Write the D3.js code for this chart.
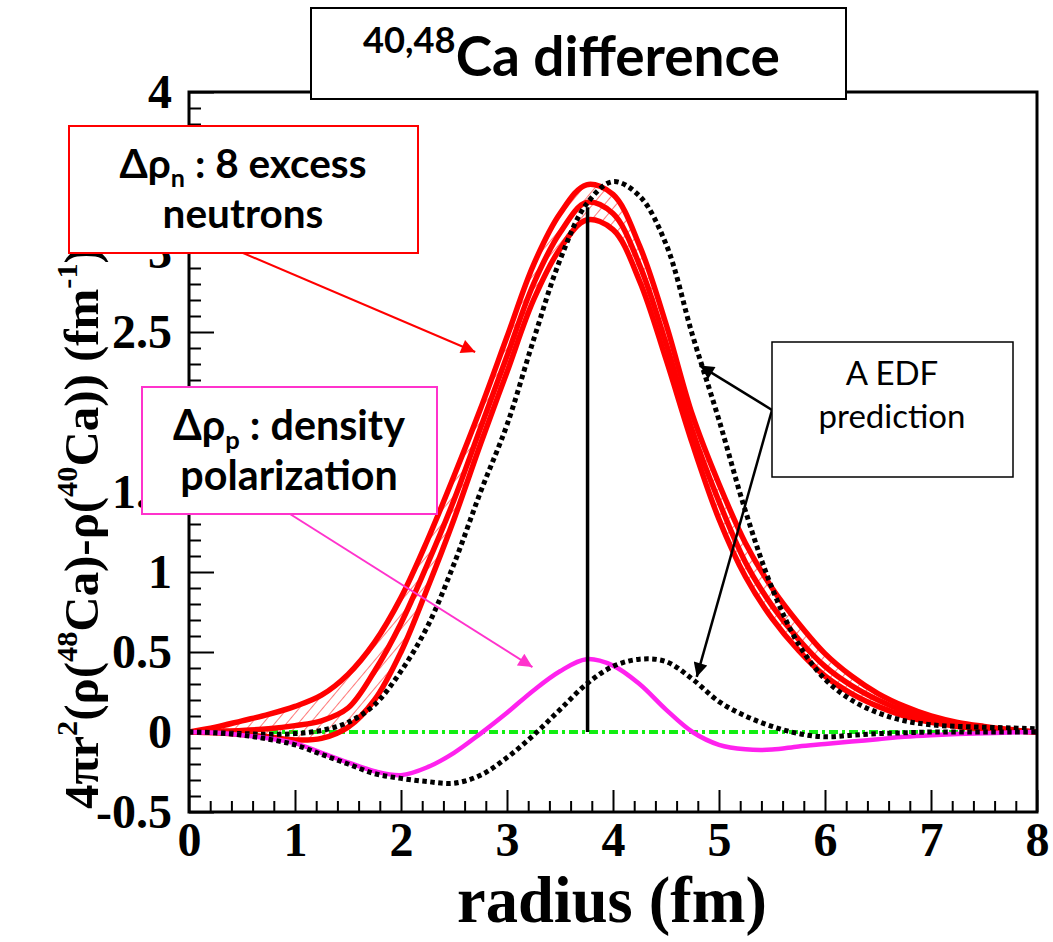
<!DOCTYPE html>
<html>
<head>
<meta charset="utf-8">
<script src="https://cdn.jsdelivr.net/npm/d3@7"></script>
<style>
  body { margin: 0; background: #fff; }
  svg { display: block; }
</style>
</head>
<body>
<svg id="chart" width="1053" height="942"></svg>
<script>
// radius grid (fm), shared by every curve
var radius = [0, 0.25, 0.5, 0.75, 1, 1.25, 1.5, 1.75, 2, 2.25, 2.5, 2.75, 3, 3.25, 3.5, 3.75,
              4, 4.25, 4.5, 4.75, 5, 5.25, 5.5, 5.75, 6, 6.25, 6.5, 6.75, 7, 7.25, 7.5, 7.75, 8];

// measured neutron difference: upper / central / lower edge of the band
var nUpper  = [0, 0.03, 0.07, 0.11, 0.16, 0.23, 0.36, 0.56, 0.84, 1.2, 1.6, 2.02, 2.47, 2.92, 3.24, 3.42,
               3.36, 3.04, 2.55, 1.98, 1.55, 1.18, 0.9, 0.68, 0.49, 0.35, 0.24, 0.16, 0.1, 0.06, 0.035, 0.015, 0];
var nMiddle = [0, 0.005, 0.01, 0.02, 0.04, 0.07, 0.15, 0.38, 0.68, 1.05, 1.45, 1.9, 2.35, 2.8, 3.12, 3.31,
               3.24, 2.92, 2.43, 1.88, 1.44, 1.06, 0.79, 0.58, 0.41, 0.29, 0.2, 0.13, 0.08, 0.045, 0.025, 0.01, 0];
var nLower  = [0, -0.005, -0.015, -0.03, -0.05, -0.04, 0.03, 0.2, 0.5, 0.9, 1.33, 1.8, 2.25, 2.7, 3.02, 3.2,
               3.14, 2.82, 2.33, 1.8, 1.33, 0.97, 0.71, 0.51, 0.35, 0.24, 0.16, 0.1, 0.06, 0.035, 0.02, 0.008, 0];
// EDF prediction for neutrons
var nEDF    = [0, -0.005, -0.01, -0.015, -0.01, 0.01, 0.06, 0.17, 0.38, 0.66, 1.05, 1.5, 1.92, 2.45, 2.95, 3.3,
               3.44, 3.35, 3.05, 2.48, 1.95, 1.38, 0.9, 0.55, 0.33, 0.2, 0.12, 0.07, 0.045, 0.035, 0.03, 0.025, 0.02];
// measured proton difference (density polarization)
var pMeas   = [0, -0.005, -0.02, -0.04, -0.07, -0.13, -0.19, -0.245, -0.27, -0.22, -0.13, -0.01, 0.12, 0.26, 0.38, 0.455,
               0.415, 0.3, 0.14, 0, -0.08, -0.108, -0.11, -0.09, -0.075, -0.06, -0.045, -0.03, -0.02, -0.013, -0.008, -0.003, 0];
// EDF prediction for protons
var pEDF    = [0, -0.005, -0.02, -0.045, -0.08, -0.14, -0.2, -0.26, -0.29, -0.31, -0.32, -0.27, -0.16, -0.02, 0.14, 0.3,
               0.41, 0.455, 0.44, 0.33, 0.19, 0.1, 0.035, -0.01, -0.03, -0.02, -0.01, -0.005, 0, 0, 0, 0, 0];

// vertical marker at the peak
var peakR = 3.76, peakTop = 3.28;

// tick values
var xTicks = [0, 1, 2, 3, 4, 5, 6, 7, 8];
var yTicks = [-0.5, 0, 0.5, 1, 1.5, 2, 2.5, 3, 3.5, 4];

var svg = d3.select('#chart');
var plot = {l: 189, r: 1037, t: 92, b: 812};

var serif = '"Liberation Serif", "Times New Roman", serif';
var sans = 'Lato, "Open Sans", sans-serif';

var x = d3.scaleLinear().domain([0, 8]).range([plot.l, plot.r]);
var y = d3.scaleLinear().domain([-0.5, 4]).range([plot.b, plot.t]);

var defs = svg.append('defs');
defs.append('clipPath').attr('id', 'clip')
  .append('rect')
  .attr('x', plot.l).attr('y', plot.t)
  .attr('width', plot.r - plot.l).attr('height', plot.b - plot.t);

var hatch = defs.append('pattern')
  .attr('id', 'hatch')
  .attr('patternUnits', 'userSpaceOnUse')
  .attr('width', 9).attr('height', 9)
  .attr('patternTransform', 'rotate(40)');
hatch.append('line')
  .attr('x1', 0).attr('y1', 0).attr('x2', 0).attr('y2', 9)
  .attr('stroke', '#ff2020').attr('stroke-width', 1.2);

function marker(id, color) {
  defs.append('marker')
    .attr('id', id)
    .attr('viewBox', '0 0 10 10')
    .attr('refX', 10).attr('refY', 5)
    .attr('markerUnits', 'userSpaceOnUse')
    .attr('markerWidth', 18).attr('markerHeight', 14)
    .attr('orient', 'auto')
    .append('path').attr('d', 'M0,0 L10,5 L0,10 z').attr('fill', color);
}
marker('arRed', '#ff0000');
marker('arMag', '#ff33cc');
marker('arBlk', '#000');

// ---- axes (ticks point inward) ----
function styleAxis(g) {
  g.select('.domain').remove();
  g.selectAll('line').attr('stroke', '#000').attr('stroke-width', 2);
  g.selectAll('text')
    .attr('font-family', serif).attr('font-weight', 'bold')
    .attr('font-size', 48).attr('fill', '#000');
}

var xMinor = d3.range(0, 8.001, 0.2).filter(function(d) { return Math.abs(d - Math.round(d)) > 0.01; });
var yMinor = d3.range(-0.5, 4.001, 0.1).filter(function(d) { return Math.abs(d * 2 - Math.round(d * 2)) > 0.01; });

svg.append('g')
  .attr('transform', 'translate(0,' + plot.b + ')')
  .call(d3.axisBottom(x).tickValues(xMinor).tickSize(-11).tickFormat(''))
  .call(styleAxis);
svg.append('g')
  .attr('transform', 'translate(0,' + plot.b + ')')
  .call(d3.axisBottom(x).tickValues(xTicks).tickSize(-22).tickPadding(10).tickFormat(function(d) { return d; }))
  .call(styleAxis);

svg.append('g')
  .attr('transform', 'translate(' + plot.l + ',0)')
  .call(d3.axisLeft(y).tickValues(yMinor).tickSize(-12).tickFormat(''))
  .call(styleAxis);
svg.append('g')
  .attr('transform', 'translate(' + plot.l + ',0)')
  .call(d3.axisLeft(y).tickValues(yTicks).tickSize(-25).tickPadding(17).tickFormat(function(d) { return d; }))
  .call(styleAxis);

// ---- curves ----
var pts = function(arr) { return radius.map(function(r, i) { return [r, arr[i]]; }); };
var line = d3.line()
  .x(function(d) { return x(d[0]); })
  .y(function(d) { return y(d[1]); })
  .curve(d3.curveCatmullRom.alpha(0.5));

var band = d3.area()
  .x(function(d, i) { return x(radius[i]); })
  .y0(function(d, i) { return y(nLower[i]); })
  .y1(function(d, i) { return y(nUpper[i]); })
  .curve(d3.curveCatmullRom.alpha(0.5));

var chart = svg.append('g').attr('clip-path', 'url(#clip)');

// zero line
chart.append('line')
  .attr('x1', x(0)).attr('x2', x(8))
  .attr('y1', y(0)).attr('y2', y(0))
  .attr('stroke', '#11ee11').attr('stroke-width', 4)
  .attr('stroke-dasharray', '9,4,3,4');

chart.append('path').datum(radius)
  .attr('d', band)
  .attr('fill', 'url(#hatch)');

[nUpper, nMiddle, nLower].forEach(function(arr) {
  chart.append('path').datum(pts(arr))
    .attr('d', line)
    .attr('fill', 'none')
    .attr('stroke', '#ff0000')
    .attr('stroke-width', 5.5);
});

chart.append('path').datum(pts(nEDF))
  .attr('d', line)
  .attr('fill', 'none')
  .attr('stroke', '#000')
  .attr('stroke-width', 5)
  .attr('stroke-dasharray', '4.5,3.5');

chart.append('path').datum(pts(pMeas))
  .attr('d', line)
  .attr('fill', 'none')
  .attr('stroke', '#ff22ee')
  .attr('stroke-width', 4.5);

chart.append('path').datum(pts(pEDF))
  .attr('d', line)
  .attr('fill', 'none')
  .attr('stroke', '#000')
  .attr('stroke-width', 5)
  .attr('stroke-dasharray', '4.5,3.5');

chart.append('line')
  .attr('x1', x(peakR)).attr('x2', x(peakR))
  .attr('y1', y(0)).attr('y2', y(peakTop))
  .attr('stroke', '#000').attr('stroke-width', 3.5);

// frame
svg.append('rect')
  .attr('x', plot.l).attr('y', plot.t)
  .attr('width', plot.r - plot.l).attr('height', plot.b - plot.t)
  .attr('fill', 'none').attr('stroke', '#000').attr('stroke-width', 3);

// ---- text helpers ----
function richText(parent, parts, size, o) {
  var t = parent.append('text')
    .attr('x', o.x).attr('y', o.y)
    .attr('text-anchor', o.anchor || 'middle')
    .attr('font-family', o.font)
    .attr('font-weight', o.weight || 'bold')
    .attr('font-size', size)
    .attr('fill', '#000');
  if (o.rotate) t.attr('transform', 'rotate(-90,' + o.x + ',' + o.y + ')');
  var shift = 0;
  parts.forEach(function(p) {
    var want = p.sup ? -p.sup * size : (p.sub ? p.sub * size : 0);
    var s = t.append('tspan').text(p.t).attr('dy', want - shift);
    if (p.sup || p.sub) s.attr('font-size', size * (p.scale || 0.62));
    shift = want;
  });
  return t;
}
function fitted(parent, parts, size, o, width) {
  var t = richText(parent, parts, size, o);
  var w = t.node().getComputedTextLength();
  t.remove();
  var fs = size * width / w;
  return {node: richText(parent, parts, fs, o), size: fs};
}

// axis titles
fitted(svg, [{t: 'radius (fm)'}], 60, {x: 612, y: 922, font: serif}, 310);
fitted(svg, [
  {t: '4πr'}, {t: '2', sup: 0.42}, {t: '(ρ('}, {t: '48', sup: 0.42}, {t: 'Ca)-ρ('},
  {t: '40', sup: 0.42}, {t: 'Ca)) (fm'}, {t: '-1', sup: 0.42}, {t: ')'}
], 48, {x: 98, y: 528, font: serif, rotate: true}, 562);

// ---- annotation boxes and arrows ----
function box(x0, y0, w, h, color, sw) {
  svg.append('rect')
    .attr('x', x0).attr('y', y0).attr('width', w).attr('height', h)
    .attr('fill', '#fff').attr('stroke', color).attr('stroke-width', sw);
}
function arrow(x0, y0, r, v, color, id, sw) {
  svg.append('line')
    .attr('x1', x0).attr('y1', y0)
    .attr('x2', x(r)).attr('y2', y(v))
    .attr('stroke', color).attr('stroke-width', sw)
    .attr('marker-end', 'url(#' + id + ')');
}

// title
box(311, 8, 535, 91, '#000', 2);
fitted(svg, [{t: '40,48', sup: 0.42, scale: 0.66}, {t: 'Ca difference'}], 56,
  {x: 363, y: 76, anchor: 'start', font: sans}, 417);

// neutrons
arrow(243, 253, 2.70, 2.375, '#ff0000', 'arRed', 2);
box(69, 126, 349, 127, '#ff0000', 2);
var l1 = fitted(svg, [{t: 'Δρ'}, {t: 'n', sub: 0.22}, {t: ' : 8 excess'}], 38,
  {x: 243, y: 178, font: sans}, 247);
richText(svg, [{t: 'neutrons'}], l1.size, {x: 243, y: 228, font: sans});

// protons
arrow(290, 514, 3.24, 0.406, '#ff33cc', 'arMag', 2);
box(142, 387, 295, 127, '#ff33cc', 2);
var l2 = fitted(svg, [{t: 'Δρ'}, {t: 'p', sub: 0.22}, {t: ' : density'}], 38,
  {x: 289, y: 440, font: sans}, 232);
richText(svg, [{t: 'polarization'}], l2.size, {x: 289, y: 490, font: sans});

// EDF
arrow(772, 410, 4.82, 2.29, '#000', 'arBlk', 2.5);
arrow(772, 410, 4.79, 0.344, '#000', 'arBlk', 2.5);
box(772, 342, 241, 135, '#000', 1.5);
var l3 = fitted(svg, [{t: 'prediction'}], 30, {x: 892, y: 428, font: sans, weight: 'normal'}, 147);
richText(svg, [{t: 'A EDF'}], l3.size, {x: 892, y: 385, font: sans, weight: 'normal'});
</script>
</body>
</html>
